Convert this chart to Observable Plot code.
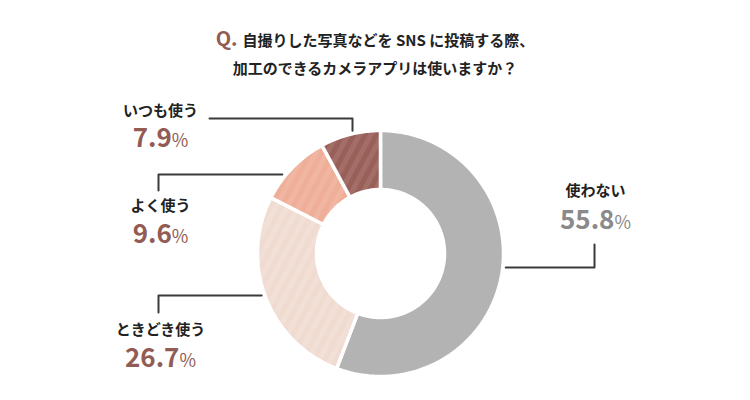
<!DOCTYPE html>
<html><head><meta charset="utf-8">
<script src="https://cdn.jsdelivr.net/npm/d3@7"></script>
<script src="https://cdn.jsdelivr.net/npm/@observablehq/plot@0.6"></script>
<style>
body{margin:0;background:#fff;width:750px;height:400px;overflow:hidden;font-family:"Noto Sans CJK JP",sans-serif;}
#title{height:80px;box-sizing:border-box;padding-top:24px;text-align:center;font-weight:700;font-size:15px;line-height:28px;color:#222;}
#title .q{color:#925c55;font-size:20px;margin-right:5px;}
#chart svg{display:block;}
</style></head><body>
<div id="title"><div><span class="q">Q.</span>自撮りした写真などを SNS に投稿する際、</div><div>加工のできるカメラアプリは使いますか？</div></div>
<div id="chart"></div>
<script>
// ---- data ----
const categories = ["使わない", "ときどき使う", "よく使う", "いつも使う"];
const values = [55.8, 26.7, 9.6, 7.9];

// ---- styles ----
const baseColors = ["#b3b3b3", "#f0dbd1", "#eeae98", "#99605a"];
const stripeColors = ["#b3b3b3", "#f2dfd6", "#f1b6a2", "#a36e68"];
const valueColors = ["#8a8a8a", "#925c55", "#925c55", "#925c55"];

// ---- layout ----
const W = 750, TOP = 80, H = 400 - TOP;
const CX = 380, CY = 253, R = 123, RI = 64;
const labelLayout = [
  {x: 595, y: 191, vy: 220, start: [594, 244], elbow: [594, 267], dir: "h", side: 1},
  {x: 160, y: 330, vy: 358, start: [158, 312], elbow: [158, 295], dir: "h", side: -1},
  {x: 160, y: 206, vy: 234, start: [158, 190], elbow: [158, 174], dir: "h", side: -1},
  {x: 160, y: 111, vy: 138, start: [209, 118], elbow: [352, 118], dir: "v", side: -1}
];

const pie = d3.pie().sort(null).value(d => d)(values);

// polygon points for each annular slice
const slicePts = [];
pie.forEach((p, i) => {
  const a0 = p.startAngle, a1 = p.endAngle;
  const n = Math.max(4, Math.ceil((a1 - a0) / (Math.PI / 180)));
  for (let k = 0; k <= n; k++) {
    const a = a0 + (a1 - a0) * k / n;
    slicePts.push({cat: categories[i], x: CX + R * Math.sin(a), y: CY - R * Math.cos(a)});
  }
  for (let k = n; k >= 0; k--) {
    const a = a0 + (a1 - a0) * k / n;
    slicePts.push({cat: categories[i], x: CX + RI * Math.sin(a), y: CY - RI * Math.cos(a)});
  }
});

// leader lines
const RL = R + 3;
const leaderPts = [];
labelLayout.forEach((L, i) => {
  let edge;
  if (L.dir === "h") {
    const dy = L.elbow[1] - CY;
    edge = [CX + L.side * Math.sqrt(RL * RL - dy * dy), L.elbow[1]];
  } else {
    const dx = L.elbow[0] - CX;
    edge = [L.elbow[0], CY - Math.sqrt(RL * RL - dx * dx)];
  }
  [L.start, L.elbow, edge].forEach(pt => leaderPts.push({cat: categories[i], x: pt[0], y: pt[1]}));
});

const labelData = categories.map((c, i) => ({
  cat: c, x: labelLayout[i].x, y: labelLayout[i].y, vy: labelLayout[i].vy,
  pct: values[i].toFixed(1) + "%", color: valueColors[i]
}));

const sliceMarks = categories.map((c, i) =>
  Plot.line(slicePts.filter(d => d.cat === c), {
    x: "x", y: "y", curve: "linear-closed",
    fill: `url(#stripe${i})`, stroke: "#fff", strokeWidth: 3.5, strokeLinejoin: "miter"
  })
);

const chart = Plot.plot({
  width: W, height: H,
  margin: 0,
  x: {type: "linear", domain: [0, W], range: [0, W], axis: null},
  y: {type: "linear", domain: [TOP, 400], range: [0, H], axis: null},
  color: {type: "identity"},
  style: {fontFamily: "'Noto Sans CJK JP', sans-serif", background: "#fff"},
  marks: [
    ...sliceMarks,
    Plot.line(leaderPts, {x: "x", y: "y", z: "cat", stroke: "#3a3a3a", strokeWidth: 2}),
    Plot.text(labelData, {x: "x", y: "y", text: "cat", fontSize: 15, fontWeight: 700, fill: "#222"}),
    Plot.text(labelData, {x: "x", y: "vy", text: "pct", fontSize: 26, fontWeight: 700, fill: "color"})
  ]
});

// stripe patterns
const defs = d3.select(chart).insert("defs", ":first-child");
categories.forEach((c, i) => {
  const p = defs.append("pattern").attr("id", `stripe${i}`)
    .attr("patternUnits", "userSpaceOnUse").attr("width", 10).attr("height", 10)
    .attr("patternTransform", "rotate(28)");
  p.append("rect").attr("width", 10).attr("height", 10).attr("fill", baseColors[i]);
  p.append("rect").attr("width", 5).attr("height", 10).attr("fill", stripeColors[i]);
});

// smaller, lighter % sign
d3.select(chart).selectAll("text").each(function () {
  const t = this.textContent;
  if (/%$/.test(t) && this.childElementCount === 0) {
    const sel = d3.select(this);
    sel.text(null);
    sel.append("tspan").text(t.slice(0, -1));
    sel.append("tspan").attr("font-size", 18).attr("font-weight", 400).text("%");
  }
});

document.getElementById("chart").appendChild(chart);
</script>
</body></html>
